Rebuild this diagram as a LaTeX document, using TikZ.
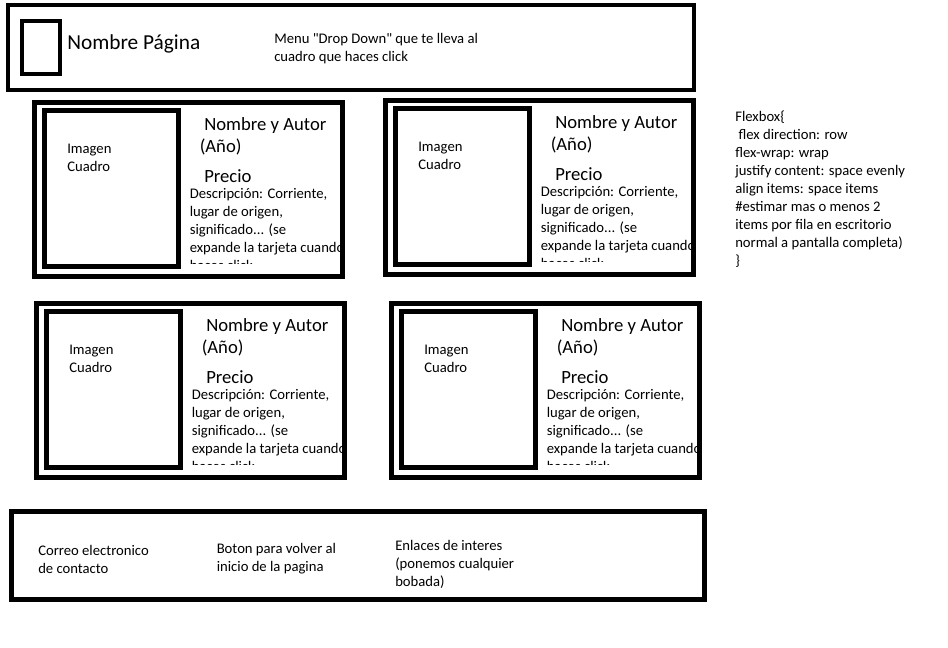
\documentclass[tikz,border=0pt]{standalone}
\usepackage{fontspec}
\setmainfont{Carlito}
\usetikzlibrary{positioning}

\tikzset{
  caja/.style={draw, line width=3.5pt, line join=miter},
  txt/.style={anchor=north west, yshift=7.3pt, inner sep=0pt, align=left,
    font=\fontsize{11}{13.5}\selectfont, execute at begin node=\strut},
  txtmed/.style={anchor=base west, inner sep=0pt, font=\fontsize{14}{16.5}\selectfont},
  txtbig/.style={anchor=base west, inner sep=0pt, font=\fontsize{16}{19}\selectfont}
}

\begin{document}
\begin{tikzpicture}[x=0.75pt, y=-0.75pt]
\useasboundingbox (0,0) rectangle (948,648);

% Cabecera
\draw[caja] (8,5) rectangle (694,90);
\draw[caja] (22,21) rectangle (60,74);
\node[txtbig] (titulo) at (67,50) {Nombre Página};
\node[txt] (menu) at (274,43) {Menu \textquotedbl Drop Down\textquotedbl{} que te lleva al\\cuadro que haces click};

% Tarjetas
\foreach \cx/\cy/\n in {34.5/102.5/1, 385.5/100.5/2, 36.5/303.5/3, 391.5/303.5/4} {
  \begin{scope}[shift={(\cx,\cy)}]
    \draw[caja] (0,0) rectangle (308,174);
    \draw[caja] (10,8) rectangle (144,164);
    \node[txt] (imagen\n) at (32.5,51.5) {Imagen\\Cuadro};
    \node[txtmed] (nombre\n) at (169.5,28) {Nombre y Autor};
    \node[txtmed] (anio\n) at (165,50) {(Año)};
    \node[txtmed] (precio\n) at (169.5,80) {Precio};
    \begin{scope}
      \clip (150,82) rectangle (330,161);
      \node[txt] (desc\n) at (155,95) {Descripción: Corriente,\\lugar de origen,\\significado... (se\\expande la tarjeta cuando\\haces click};
    \end{scope}
  \end{scope}
}

% Notas de estilo
\node[txt] (flexbox) at (735,120.5) {Flexbox\{\\\hspace{2.5pt}flex direction: row\\flex-wrap: wrap\\justify content: space evenly\\align items: space items\\\#estimar mas o menos 2\\items por fila en escritorio\\normal a pantalla completa)\\\}};

% Pie de pagina
\draw[caja] (11.5,511.5) rectangle (704.5,599.5);
\node[txt] (correo) at (38,555) {Correo electronico\\de contacto};
\node[txt] (boton) at (216.5,553) {Boton para volver al\\inicio de la pagina};
\node[txt] (enlaces) at (395,550) {Enlaces de interes\\(ponemos cualquier\\bobada)};
\end{tikzpicture}
\end{document}
